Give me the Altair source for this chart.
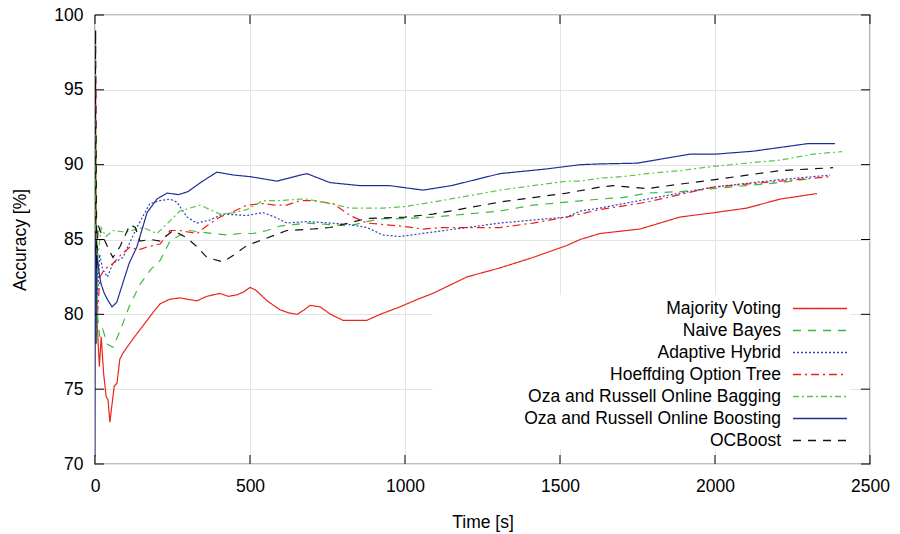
import altair as alt
import pandas as pd

series_names = [
    "Majority Voting",
    "Naive Bayes",
    "Adaptive Hybrid",
    "Hoeffding Option Tree",
    "Oza and Russell Online Bagging",
    "Oza and Russell Online Boosting",
    "OCBoost",
]
series_colors = ["#e8261e", "#3db83d", "#2a45b8", "#f01c1c", "#55c945", "#1f2f96", "#111111"]
series_dashes = [[1, 0], [8, 7], [2, 2], [8, 4, 2, 4], [6, 3, 2, 3], [1, 0], [8, 7]]

mv_t = [0, 2, 4, 8, 14, 20, 28, 36, 42, 48, 55, 62, 71, 80, 90, 110, 135, 168, 190, 210, 240, 274, 300, 329,
        360, 403, 430, 458, 480, 500, 520, 555, 597, 625, 652, 675, 694, 726, 760, 800, 850, 877, 920, 984,
        1040, 1090, 1150, 1200, 1306, 1413, 1522, 1565, 1629, 1672, 1758, 1887, 2000, 2103, 2210, 2329]
mv_v = [80, 95.8, 84, 79, 76.5, 78.5, 76, 74.5, 74.3, 72.8, 74, 75.2, 75.4, 77, 77.4, 78, 78.7, 79.6, 80.2,
        80.7, 81, 81.1, 81, 80.9, 81.2, 81.4, 81.2, 81.3, 81.5, 81.8, 81.6, 80.9, 80.3, 80.1, 80.0, 80.3,
        80.6, 80.5, 80.0, 79.6, 79.6, 79.6, 80.0, 80.5, 81.0, 81.4, 82.0, 82.5, 83.1, 83.8, 84.6, 85.0, 85.4,
        85.5, 85.7, 86.5, 86.8, 87.1, 87.7, 88.07]

nb_t = [0, 3, 8, 15, 25, 40, 58, 81, 110, 145, 180, 210, 242, 275, 306, 340, 381, 430, 468, 510, 555, 597,
        640, 684, 758, 820, 877, 929, 1000, 1090, 1200, 1306, 1413, 1522, 1629, 1700, 1781, 1887, 1994, 2100,
        2210, 2306]
nb_v = [85, 92, 80, 78.5, 79, 78, 77.8, 78.9, 80.5, 82.0, 83.0, 83.6, 84.9, 85.3, 85.6, 85.5, 85.4, 85.3,
        85.4, 85.4, 85.6, 85.9, 86.0, 86.1, 86.0, 85.9, 86.2, 86.4, 86.4, 86.5, 86.7, 86.9, 87.3, 87.5, 87.7,
        87.8, 88.1, 88.2, 88.4, 88.6, 88.8, 89.05]

ah_t = [0, 3, 8, 15, 25, 40, 58, 90, 135, 177, 210, 242, 264, 297, 329, 370, 413, 490, 542, 580, 619, 684,
        758, 820, 877, 929, 984, 1090, 1200, 1306, 1413, 1522, 1565, 1629, 1781, 1994, 2210, 2371]
ah_v = [82, 86, 81, 84, 83, 82.5, 83.4, 83.8, 85.8, 87.4, 87.6, 87.7, 87.5, 86.5, 86.1, 86.3, 86.7, 86.6,
        86.8, 86.5, 86.1, 86.2, 86.1, 86.0, 85.8, 85.3, 85.2, 85.5, 85.8, 86.1, 86.3, 86.5, 86.9, 87.1, 87.7,
        88.5, 89.0, 89.3]

hot_t = [0, 3, 8, 16, 30, 58, 85, 113, 140, 168, 210, 242, 274, 300, 329, 360, 403, 450, 490, 542, 580, 619,
         661, 703, 768, 823, 877, 930, 984, 1058, 1120, 1200, 1306, 1413, 1522, 1565, 1629, 1781, 1887, 1994,
         2100, 2210, 2371]
hot_v = [84, 88, 80, 82.5, 83, 83.4, 84, 84.5, 84.3, 84.5, 84.7, 85.6, 85.6, 85.5, 85.4, 85.9, 86.5, 86.9,
         87.3, 87.4, 87.3, 87.3, 87.6, 87.6, 87.4, 86.6, 86.1, 86.0, 85.9, 85.7, 85.8, 85.8, 85.8, 86.1, 86.5,
         86.7, 87.0, 87.5, 88.0, 88.5, 88.7, 88.9, 89.2]

bag_t = [0, 2, 5, 10, 20, 35, 58, 100, 155, 200, 240, 274, 306, 339, 370, 403, 450, 490, 542, 600, 661, 684,
         758, 823, 929, 1000, 1090, 1200, 1306, 1413, 1522, 1565, 1629, 1700, 1781, 1887, 2000, 2103, 2210,
         2316, 2410]
bag_v = [80, 93, 78, 84, 85.8, 85.2, 85.6, 85.5, 85.8, 85.4, 86.2, 86.9, 87.1, 87.3, 87.0, 86.7, 86.8, 87.0,
         87.6, 87.6, 87.7, 87.7, 87.4, 87.1, 87.1, 87.2, 87.5, 87.9, 88.3, 88.6, 88.9, 88.9, 89.1, 89.2, 89.4,
         89.6, 89.9, 90.1, 90.3, 90.7, 90.87]

boo_t = [0, 1, 3, 6, 10, 15, 20, 30, 40, 55, 70, 90, 110, 135, 168, 200, 232, 270, 300, 340, 393, 450, 500,
         587, 661, 684, 758, 855, 950, 1058, 1150, 1306, 1450, 1565, 1629, 1748, 1919, 2000, 2123, 2297, 2387]
boo_v = [70.5, 85, 78, 84, 83.4, 82.5, 82, 81.4, 81, 80.5, 80.8, 82.1, 83.4, 84.5, 86.8, 87.7, 88.1, 88.0,
         88.2, 88.8, 89.5, 89.3, 89.2, 88.9, 89.3, 89.4, 88.8, 88.6, 88.6, 88.3, 88.6, 89.4, 89.7, 90.0, 90.05,
         90.1, 90.7, 90.7, 90.9, 91.4, 91.4]

oc_t = [0, 2, 5, 10, 16, 30, 45, 58, 80, 100, 113, 130, 145, 180, 210, 252, 297, 330, 361, 413, 450, 490, 555,
        619, 703, 758, 877, 1000, 1090, 1200, 1306, 1413, 1522, 1629, 1672, 1781, 1887, 2000, 2103, 2210, 2381]
oc_v = [84, 99, 83, 86, 85.6, 85, 84.3, 83.8, 84.5, 85.4, 86.0, 85.8, 84.9, 85.0, 84.9, 85.6, 85.1, 84.5,
        83.8, 83.5, 84.0, 84.6, 85.1, 85.6, 85.7, 85.8, 86.4, 86.5, 86.7, 87.1, 87.5, 87.8, 88.1, 88.5, 88.6,
        88.4, 88.7, 89.0, 89.3, 89.6, 89.8]

x_ticks = [0, 500, 1000, 1500, 2000, 2500]
y_ticks = [70, 75, 80, 85, 90, 95, 100]

all_series = [(mv_t, mv_v), (nb_t, nb_v), (ah_t, ah_v), (hot_t, hot_v), (bag_t, bag_v), (boo_t, boo_v), (oc_t, oc_v)]
rows = []
for name, (ts, vs) in zip(series_names, all_series):
    for t, v in zip(ts, vs):
        rows.append({"series": name, "t": t, "acc": v})
df = pd.DataFrame(rows)

W, H = 775, 449
FONT = "Liberation Sans"
FS = 17.5

xscale = alt.Scale(domain=[0, 2500], nice=False, zero=False)
yscale = alt.Scale(domain=[70, 100], nice=False, zero=False)

legend = alt.Legend(
    title=None, orient="none", legendX=338, legendY=280,
    symbolType="M-2.11,0H2.11", symbolSize=655, symbolStrokeWidth=1.3,
    labelAlign="right", labelOffset={"expr": "-52.5"}, symbolOffset=373.5,
    labelFont=FONT, labelFontSize=FS, labelColor="black", labelLimit=400,
    rowPadding=0, padding=0, fillColor="white",
)

lines = alt.Chart(df).mark_line(strokeWidth=1.2, clip=True).encode(
    x=alt.X("t:Q", scale=xscale, title="Time [s]",
            axis=alt.Axis(values=x_ticks, grid=True, ticks=False, domain=False, labelFlush=False,
                          format="d", labelPadding=13, titlePadding=19)),
    y=alt.Y("acc:Q", scale=yscale, title="Accuracy [%]",
            axis=alt.Axis(values=y_ticks, grid=True, ticks=False, domain=False, labelFlush=False,
                          format="d", labelPadding=12, titlePadding=24)),
    color=alt.Color("series:N", scale=alt.Scale(domain=series_names, range=series_colors), legend=legend),
    strokeDash=alt.StrokeDash("series:N", scale=alt.Scale(domain=series_names, range=series_dashes), legend=legend),
)

xt = pd.DataFrame({"t": x_ticks})
yt = pd.DataFrame({"acc": y_ticks})
TL = 9
tick_bottom = alt.Chart(xt).mark_rule(color="black", strokeWidth=1).encode(
    x=alt.X("t:Q", scale=xscale), y=alt.value(H), y2=alt.value(H - TL))
tick_top = alt.Chart(xt).mark_rule(color="black", strokeWidth=1).encode(
    x=alt.X("t:Q", scale=xscale), y=alt.value(0), y2=alt.value(TL))
tick_left = alt.Chart(yt).mark_rule(color="black", strokeWidth=1).encode(
    y=alt.Y("acc:Q", scale=yscale), x=alt.value(0), x2=alt.value(TL))
tick_right = alt.Chart(yt).mark_rule(color="black", strokeWidth=1).encode(
    y=alt.Y("acc:Q", scale=yscale), x=alt.value(W), x2=alt.value(W - TL))

chart = alt.layer(lines, tick_bottom, tick_top, tick_left, tick_right).properties(
    width=W, height=H,
    autosize=alt.AutoSizeParams(type="none"),
    padding={"left": 87, "top": 7, "right": 22, "bottom": 68},
).configure_view(
    stroke="black", strokeWidth=1.2
).configure_axis(
    labelFont=FONT, labelFontSize=FS, labelColor="black",
    titleFont=FONT, titleFontSize=FS, titleFontWeight="normal", titleColor="black",
    gridColor="#e4e4e4", gridWidth=1,
)

chart.save("out.html", embed_options={"renderer": "svg", "actions": False})
